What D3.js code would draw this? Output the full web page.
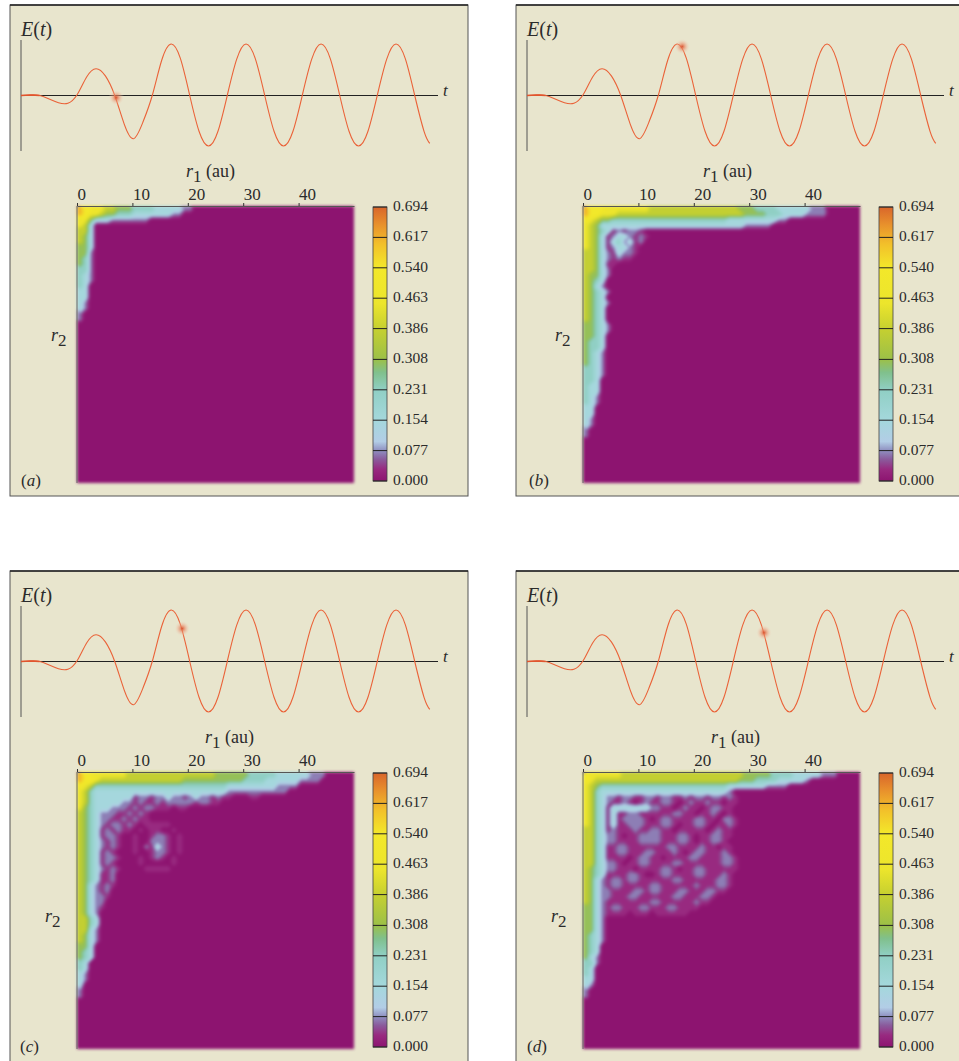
<!DOCTYPE html>
<html>
<head>
<meta charset="utf-8">
<title>E(t) and two-electron density</title>
<script src="https://cdn.jsdelivr.net/npm/d3@7"></script>
<style>
  html, body { margin: 0; background: #fff; }
  svg { display: block; }
  text { font-family: "Liberation Serif", serif; fill: #2b2b2b; }
  .ital { font-style: italic; }
</style>
</head>
<body>
<svg id="chart" width="959" height="1061"></svg>
<script>
'use strict';

// ── Data ──────────────────────────────────────────────────────
const panelNames = ['a', 'b', 'c', 'd'];

const fieldT = [0, 0.125, 0.25, 0.375, 0.5, 0.625, 0.75, 0.875, 1, 1.125, 1.25, 1.375, 1.5, 1.625, 1.75, 1.875,
  2, 2.125, 2.25, 2.375, 2.5, 2.625, 2.75, 2.875, 3, 3.125, 3.25, 3.375, 3.5, 3.625, 3.75, 3.875,
  4, 4.125, 4.25, 4.375, 4.5, 4.625, 4.75, 4.875, 5, 5.125, 5.25, 5.375, 5.45];
const fieldE = [0, 0.01, 0, -0.07, -0.14, -0.15, 0.02, 0.36, 0.52, 0.38, 0, -0.55, -0.84, -0.52, 0, 0.68,
  1, 0.72, 0, -0.7, -0.98, -0.7, 0, 0.7, 1, 0.71, 0, -0.7, -0.98, -0.7, 0, 0.7,
  1, 0.71, 0, -0.7, -0.98, -0.7, 0, 0.7, 1, 0.71, 0, -0.7, -0.93];

const markerT = [1.27, 2.07, 2.15, 3.16];
const markerE = [-0.04, 0.95, 0.64, 0.56];

const r1Ticks = [0, 10, 20, 30, 40];
const colorTicks = [0, 0.077, 0.154, 0.231, 0.308, 0.386, 0.463, 0.54, 0.617, 0.694];
const colorTickLabels = ['0.000', '0.077', '0.154', '0.231', '0.308', '0.386', '0.463', '0.540', '0.617', '0.694'];

const colorStops = [0, 0.03, 0.055, 0.077, 0.1, 0.154, 0.231, 0.275, 0.308, 0.386, 0.45, 0.54, 0.6, 0.65, 0.694];
const colorValues = ['#8d1470', '#982a80', '#8a5b9c', '#8f8fc0', '#b2cde6', '#a4d8dc', '#90cfc4', '#80c08c',
  '#9cc048', '#c6d030', '#ece52c', '#f3e82a', '#f2c02a', '#e8902c', '#d9662b'];

// Density on a 1 au grid, one string per r2 row. Each char is a colour-bar level
// (0-9 = tick index, x = half a level); anything left out is 0.
const densityA = [
  '877665544433332222211',
  '8766544333222222211',
  '6642221111111',
  '652', '552', '542', '542', '442', '441', '431', '431', '331', '321', '321', '32', '22', '22', '21', '21', '1', '1'
];
const densityB = [
  '87776666666655555555555555554443333222222111',
  '87766655555555555555555555555444433322221111',
  '7654433333333333333333333322222222211',
  '6542222222222222222222222222211111',
  '65432x1x11x',
  '6542x1221x1x',
  '6542x2312x1',
  '6542x1221x',
  '55421x211x',
  '55421x1xx',
  '5542xx',
  '55421',
  '54421', '5432', '5421', '54321', '5432', '54321', '5432', '5432', '5432', '44321', '44321', '4432', '4332', '4332',
  '4321', '4321', '4321', '3321', '3321', '332', '322', '322', '321', '321', '22', '22', '21', '21', '1', '1'
];
const densityC = [
  '877666666555555555555555544444433333222222111',
  '87765555555555555554444444444433332222221111',
  '7653333333333333333333333332222222221111',
  '65322222222222222222222222211111111111',
  '6532222222x11x11211x1211x1xx000xx',
  '6532222211x1xx1x11111x11xx',
  '643222111x1x11xxx0xx',
  '5432111xx1x1x0',
  '543211xx1x1xx0',
  '54321x11x1x0xxxxx',
  '5432x1x1xx0x0xx00x',
  '5432x11x00x00x11x0x',
  '54321x1x00x00111x0x',
  '54321x1x00x01x21x0x',
  '5432x1x000x00x11x0x',
  '5432x11x000x0x1x0x',
  '5432x1x0000x00000x',
  '54321x1x0000xxxxx',
  '5432xx100',
  '5432xx10', '5421x1x', '5421x1', '54211x', '54211', '5421x', '5421',
  '5532', '5532', '5521', '5421', '5421', '442', '432', '432', '32', '32', '21', '21', '2', '1', '1'
];
const densityD = [
  '7666666555555555555555555555544444333322222111',
  '76555555555555555555555555554443333222221',
  '6543333333333333333333333322222221111',
  '653222222222222222222222221',
  '653211x11xx11x11xx1x11x11x1x',
  '65321xx1x0x1xx11x0x1xx1xx0xx',
  '6532x222222211xx0x1xx0x11xx0',
  '6532x2xx11xxxxxx11xx0xx1x0x0',
  '6532x2x1111x0x11xxxx11xx011x',
  '6532x2xx111xxx11x0xx11x0xx1x',
  '5532x1xxx1xx11xx0xxxxx0x1xx0',
  '553211x0xx1111xxx11x0xx11xx0',
  '553211xxxx1111xxx11x0xx11x00',
  '5532xx11xxxxxxx11xxxx1xx0xx0',
  '5532xx11xxx11xxx1x0x11xxx1x0',
  '5532xxxx0x11xx0xxxx11xxxx11x',
  '553211x0xx11xxxx11xxxxxxx11x',
  '543211xxx0xxxx11x0xx11xxxxxx',
  '5432xxxx11x00x11xxxx11xxx1x0',
  '5421x11x11xxxxxx11xxxxxx11x0',
  '5421x11xxxxx11xxxxxx1xxx11x0',
  '54211xxxx11x11xxx11xxx11xx00',
  '54211xxx11xxxxxx11xxx11x000',
  '5421xxxxxxxx11xxxxxx1xx0',
  '4421x11xxx11xxx11xxxx',
  '4421xxxx0xxx0xxxxxx',
  '4421', '4421', '4421', '4321', '4321', '432', '432', '421', '331', '32', '32', '22', '21', '1', '1'
];
const densities = [densityA, densityB, densityC, densityD];

// ── Layout ────────────────────────────────────────────────────
const PANEL_X = [10, 516, 10, 516];
const PANEL_Y = [5, 5, 571, 571];
const PANEL_W = 458;
const PANEL_H = 491;
const PLOT_X = 67;       // heatmap offset inside a panel
const PLOT_Y = 201;
const PLOT_SIZE = 277;
const GRID_N = 50;
const BAR_X = 363;
const BAR_W = 14;
const BAR_TOP = 202;
const BAR_BOTTOM = 476;
const LEVEL_STEP = 0.0771;

const R1_LABEL_X = [176, 187, 195, 195];
const R2_LABEL_X = [41, 39, 35, 35];
const R2_LABEL_Y = [340, 340, 355, 355];
const TAG_X = [11, 13, 10, 11];

const svg = d3.select('#chart');
const defs = svg.append('defs');

defs.append('filter').attr('id', 'soften')
  .attr('filterUnits', 'userSpaceOnUse')
  .attr('color-interpolation-filters', 'sRGB')
  .attr('x', -10).attr('y', -10).attr('width', PLOT_SIZE + 20).attr('height', PLOT_SIZE + 20)
  .append('feGaussianBlur').attr('stdDeviation', 1.5);

const glow = defs.append('radialGradient').attr('id', 'marker-glow');
glow.append('stop').attr('offset', '0%').attr('stop-color', '#d8502c').attr('stop-opacity', 0.95);
glow.append('stop').attr('offset', '30%').attr('stop-color', '#e8805c').attr('stop-opacity', 0.65);
glow.append('stop').attr('offset', '100%').attr('stop-color', '#f0e4d0').attr('stop-opacity', 0);

const barGrad = defs.append('linearGradient').attr('id', 'bar-grad')
  .attr('x1', 0).attr('y1', 1).attr('x2', 0).attr('y2', 0);
colorStops.forEach((v, i) => {
  barGrad.append('stop')
    .attr('offset', (v / 0.694 * 100) + '%')
    .attr('stop-color', colorValues[i]);
});

const color = d3.scaleLinear().domain(colorStops).range(colorValues).clamp(true);
const xField = d3.scaleLinear().domain([0, 5.56]).range([11, 428]);
const yField = d3.scaleLinear().domain([-1, 1]).range([142, 39]);
const rScale = d3.scaleLinear().domain([0, GRID_N]);
const valueY = d3.scaleLinear().domain([0, 0.694]).range([BAR_BOTTOM, BAR_TOP]);

panelNames.forEach((name, i) => drawPanel(name, i));

function drawPanel(name, i) {
  const g = svg.append('g').attr('transform', `translate(${PANEL_X[i]},${PANEL_Y[i]})`);

  g.append('rect')
    .attr('width', PANEL_W).attr('height', PANEL_H)
    .attr('fill', '#e8e5cd')
    .attr('stroke', '#555').attr('stroke-width', 1);
  g.append('line')
    .attr('x1', 0).attr('x2', PANEL_W).attr('y1', 0).attr('y2', 0)
    .attr('stroke', '#222').attr('stroke-width', 1.5);

  drawField(g, i);
  drawDensity(g, i, name);
  drawColorBar(g);
}

function drawField(g, i) {
  const base = yField(0);

  g.append('line')
    .attr('x1', 11).attr('x2', 11).attr('y1', 35).attr('y2', 146)
    .attr('stroke', '#555').attr('stroke-width', 1);
  g.append('line')
    .attr('x1', 11).attr('x2', 428).attr('y1', base).attr('y2', base)
    .attr('stroke', '#222').attr('stroke-width', 1);

  const line = d3.line()
    .x((d, k) => xField(fieldT[k]))
    .y(d => yField(d))
    .curve(d3.curveNatural);

  g.append('path')
    .attr('d', line(fieldE))
    .attr('fill', 'none')
    .attr('stroke', '#ea6238')
    .attr('stroke-width', 1.1);

  // Thicker start of the pulse where it runs along the axis
  g.append('path')
    .attr('d', line.curve(d3.curveLinear)(fieldE.slice(0, 3)))
    .attr('fill', 'none')
    .attr('stroke', '#e0552e')
    .attr('stroke-width', 1.6);

  g.append('circle')
    .attr('cx', xField(markerT[i]))
    .attr('cy', yField(markerE[i]))
    .attr('r', 8)
    .attr('fill', 'url(#marker-glow)');

  g.append('text')
    .attr('x', 11).attr('y', 31)
    .attr('font-size', 20)
    .html('<tspan class="ital">E</tspan>(<tspan class="ital">t</tspan>)');
  g.append('text')
    .attr('class', 'ital')
    .attr('x', 433).attr('y', 91)
    .attr('font-size', 17)
    .text('t');
}

// Row strings → flat value grid for d3.contours
function densityValues(rows) {
  const values = new Array(GRID_N * GRID_N).fill(0);
  rows.forEach((row, r2) => {
    Array.from(row).forEach((ch, r1) => {
      const level = ch === 'x' ? 0.5 : +ch;
      values[r2 * GRID_N + r1] = level * LEVEL_STEP;
    });
  });
  return values;
}

function drawDensity(g, i, name) {
  const plot = g.append('g').attr('transform', `translate(${PLOT_X},${PLOT_Y})`);
  const r = rScale.copy().range([0, PLOT_SIZE]);

  const thresholds = d3.range(1, 70).map(k => k * 0.01);
  const contours = d3.contours()
    .size([GRID_N, GRID_N])
    .thresholds(thresholds)(densityValues(densities[i]));
  const path = d3.geoPath(d3.geoTransform({
    point(x, y) { this.stream.point(r(x), r(y)); }
  }));

  const heat = plot.append('g').attr('filter', 'url(#soften)');
  heat.append('rect')
    .attr('width', PLOT_SIZE).attr('height', PLOT_SIZE)
    .attr('fill', color(0));
  heat.selectAll('path.cell')
    .data(contours)
    .join('path')
      .attr('class', 'cell')
      .attr('d', path)
      .attr('fill', d => color(d.value));

  const axis = plot.append('g')
    .call(d3.axisTop(r).tickValues(r1Ticks).tickSize(3).tickSizeOuter(0).tickPadding(3));
  axis.select('.domain').attr('stroke', '#555');
  axis.selectAll('.tick line').attr('stroke', '#333');
  axis.selectAll('.tick text')
    .attr('text-anchor', 'start')
    .attr('font-family', '"Liberation Serif", serif')
    .attr('font-size', 17)
    .attr('fill', '#2b2b2b');

  plot.append('line')
    .attr('x1', 0).attr('x2', 0).attr('y1', 0).attr('y2', PLOT_SIZE)
    .attr('stroke', '#666').attr('stroke-width', 1);

  // r1 (au) title
  g.append('text')
    .attr('x', R1_LABEL_X[i]).attr('y', 172)
    .attr('font-size', 18)
    .html('<tspan class="ital">r</tspan><tspan dy="5" font-size="17">1</tspan><tspan dy="-5"> (au)</tspan>');

  // r2 title
  g.append('text')
    .attr('x', R2_LABEL_X[i]).attr('y', R2_LABEL_Y[i] - 4)
    .attr('font-size', 18)
    .html('<tspan class="ital">r</tspan><tspan dy="5" font-size="17">2</tspan>');

  g.append('text')
    .attr('x', TAG_X[i]).attr('y', 481)
    .attr('font-size', 17)
    .html(`(<tspan class="ital">${name}</tspan>)`);
}

function drawColorBar(g) {
  const bar = g.append('g');
  bar.append('rect')
    .attr('x', BAR_X).attr('y', BAR_TOP)
    .attr('width', BAR_W).attr('height', BAR_BOTTOM - BAR_TOP)
    .attr('fill', 'url(#bar-grad)')
    .attr('stroke', '#444').attr('stroke-width', 0.8);

  bar.selectAll('line.cb')
    .data(colorTicks)
    .join('line')
      .attr('class', 'cb')
      .attr('x1', BAR_X).attr('x2', BAR_X + BAR_W)
      .attr('y1', d => valueY(d)).attr('y2', d => valueY(d))
      .attr('stroke', '#222').attr('stroke-width', 1);

  bar.selectAll('text.cb')
    .data(colorTicks)
    .join('text')
      .attr('class', 'cb')
      .attr('x', BAR_X + 20)
      .attr('y', d => valueY(d) + 4)
      .attr('font-size', 15.5)
      .text((d, k) => colorTickLabels[k]);
}
</script>
</body>
</html>
